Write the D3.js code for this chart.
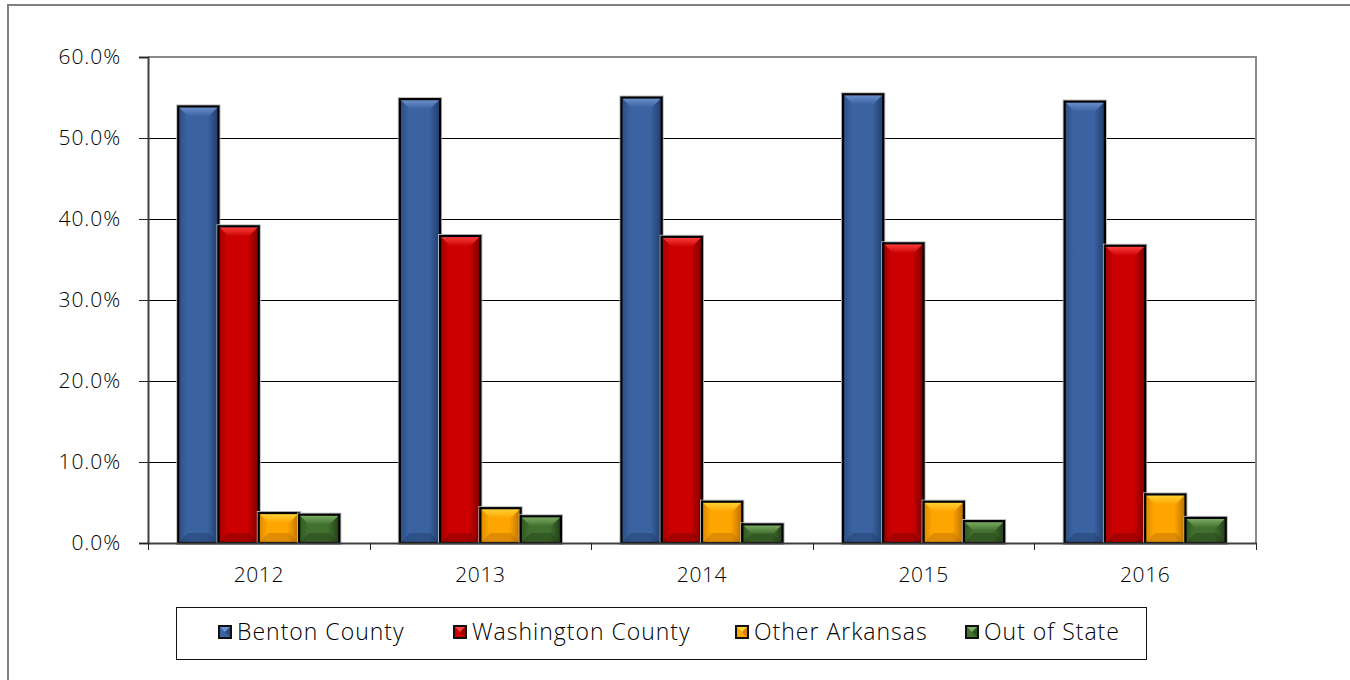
<!DOCTYPE html>
<html><head><meta charset="utf-8">
<script src="https://cdn.jsdelivr.net/npm/d3@7"></script>
<style>
html,body{margin:0;padding:0;background:#fff;}
svg{display:block;}
text{font-family:"Open Sans","Noto Sans",sans-serif;font-weight:300;fill:#000;}
</style></head>
<body>
<svg id="chart" width="1350" height="680"></svg>
<script>
// ---- data ----
const years = ["2012","2013","2014","2015","2016"];
const seriesNames = ["Benton County","Washington County","Other Arkansas","Out of State"];
const benton = [53.9, 54.8, 55.0, 55.4, 54.5];
const washington = [39.1, 37.9, 37.8, 37.0, 36.7];
const otherArkansas = [3.7, 4.3, 5.1, 5.1, 6.0];
const outOfState = [3.5, 3.3, 2.3, 2.7, 3.1];
const yTicks = [0,10,20,30,40,50,60];

(function(){
const seriesValues = [benton, washington, otherArkansas, outOfState];
const palette = [
  {base:"#3B63A2", light:"#6F93CF", dark:"#203C6A", side:"#2C4C80"},
  {base:"#CC0000", light:"#FF4444", dark:"#7A0000", side:"#A00000"},
  {base:"#FFA500", light:"#FFD63A", dark:"#B86E00", side:"#D98A00"},
  {base:"#41702F", light:"#80B067", dark:"#233E18", side:"#30581F"}
];

const svg = d3.select("#chart");
const defs = svg.append("defs");
palette.forEach((c,i)=>{
  const g = defs.append("linearGradient").attr("id","hg"+i).attr("x1","0").attr("x2","1").attr("y1","0").attr("y2","0");
  g.append("stop").attr("offset","0").attr("stop-color",c.side);
  g.append("stop").attr("offset","0.22").attr("stop-color",c.base);
  g.append("stop").attr("offset","0.72").attr("stop-color",c.base);
  g.append("stop").attr("offset","1").attr("stop-color",c.dark);
  const t = defs.append("linearGradient").attr("id","tg"+i).attr("x1","0").attr("x2","0").attr("y1","0").attr("y2","1");
  t.append("stop").attr("offset","0").attr("stop-color",c.light);
  t.append("stop").attr("offset","1").attr("stop-color",c.base);
});

// outer frame
svg.append("path").attr("d","M8,685 L8,5 L1360,5").attr("fill","none").attr("stroke","#7f7f7f").attr("stroke-width",2);

const pLeft=148, pRight=1256, pTop=57, pBottom=543;
const x = d3.scaleBand().domain(years).range([pLeft,pRight]).paddingInner(0).paddingOuter(0);
const xs = d3.scaleBand().domain(seriesNames).range([0,x.bandwidth()]).paddingInner(0).paddingOuter(0.75);
const y = d3.scaleLinear().domain([0,60]).range([pBottom,pTop]);
const crisp = v => Math.round(v)+0.5;

// gridlines
svg.append("g").selectAll("line").data(yTicks.filter(d=>d>0 && d<60)).join("line")
  .attr("x1",pLeft).attr("x2",pRight).attr("y1",d=>crisp(y(d))).attr("y2",d=>crisp(y(d)))
  .attr("stroke","#000").attr("stroke-width",1);
// plot top/right border
svg.append("path").attr("d",`M${pLeft},${y(60)} L${pRight},${y(60)} L${pRight},${pBottom}`)
  .attr("fill","none").attr("stroke","#8a8a8a").attr("stroke-width",2);

// bars
function bevelBar(g, x0, w, y0, h, ci){
  const c = palette[ci];
  const b = Math.min(10, w/2, h/2);
  g.append("rect").attr("x",x0-1.5).attr("y",y0-1.5).attr("width",w+3).attr("height",h+3)
    .attr("fill","none").attr("stroke","#bbb").attr("stroke-width",1);
  g.append("rect").attr("x",x0).attr("y",y0).attr("width",w).attr("height",h).attr("fill",`url(#hg${ci})`);
  g.append("path").attr("d",`M${x0},${y0} L${x0+w},${y0} L${x0+w-b},${y0+b} L${x0+b},${y0+b} Z`).attr("fill",`url(#tg${ci})`);
  g.append("path").attr("d",`M${x0},${y0+h} L${x0+w},${y0+h} L${x0+w-b},${y0+h-b} L${x0+b},${y0+h-b} Z`).attr("fill",c.dark).attr("opacity",0.45);
  g.append("rect").attr("x",x0).attr("y",y0).attr("width",w).attr("height",h)
    .attr("fill","none").attr("stroke","#000").attr("stroke-width",2.2);
}

const barsG = svg.append("g");
years.forEach((yr,i)=>{
  seriesNames.forEach((s,j)=>{
    const v = seriesValues[j][i];
    const x0 = x(yr)+xs(s);
    bevelBar(barsG, x0, xs.bandwidth(), y(v), y(0)-y(v), j);
  });
});

// y axis
const yAxis = d3.axisLeft(y).tickValues(yTicks).tickFormat(d=>d.toFixed(1)+"%").tickSize(9).tickPadding(18);
const ya = svg.append("g").attr("transform",`translate(${pLeft},0)`).call(yAxis);
ya.select(".domain").attr("stroke","#404040").attr("stroke-width",2);
ya.selectAll(".tick line").attr("stroke","#222");
ya.selectAll("text").style("font-size","21px").style("letter-spacing","0.9px").attr("fill","#000");

// x axis
const xAxis = d3.axisBottom(x).tickSize(0).tickPadding(24);
const xa = svg.append("g").attr("transform",`translate(0,${pBottom})`).call(xAxis);
xa.select(".domain").attr("stroke","#404040").attr("stroke-width",2);
xa.selectAll("text").style("font-size","21px").style("letter-spacing","0.6px").attr("fill","#000");
const bounds = years.map(d=>x(d)).concat([pRight]);
svg.append("g").selectAll("line").data(bounds).join("line")
  .attr("x1",d=>crisp(d)).attr("x2",d=>crisp(d)).attr("y1",pBottom).attr("y2",pBottom+7)
  .attr("stroke","#222").attr("stroke-width",1);

// legend
const lg = svg.append("g");
lg.append("rect").attr("x",176.5).attr("y",607.5).attr("width",970).attr("height",52)
  .attr("fill","#fff").attr("stroke","#111").attr("stroke-width",1);
const legendX = [218, 453, 735, 965];
seriesNames.forEach((s,j)=>{
  const mx = legendX[j], my = 625, sz = 14;
  const c = palette[j];
  lg.append("rect").attr("x",mx).attr("y",my).attr("width",sz).attr("height",sz).attr("fill","#111");
  const ix=mx+2, iy=my+2, iw=sz-4;
  lg.append("rect").attr("x",ix).attr("y",iy).attr("width",iw).attr("height",iw).attr("fill",c.base);
  lg.append("path").attr("d",`M${ix},${iy} L${ix+iw},${iy} L${ix+iw/2},${iy+iw/2} Z`).attr("fill",c.light);
  lg.append("path").attr("d",`M${ix+iw},${iy} L${ix+iw},${iy+iw} L${ix+iw/2},${iy+iw/2} Z`).attr("fill",c.dark).attr("opacity",0.6);
  lg.append("text").attr("x",mx+sz+5).attr("y",my+sz/2).attr("dy","0.35em")
    .style("font-size","23px").style("letter-spacing","1px").text(s);
});
})();
</script>
</body></html>
